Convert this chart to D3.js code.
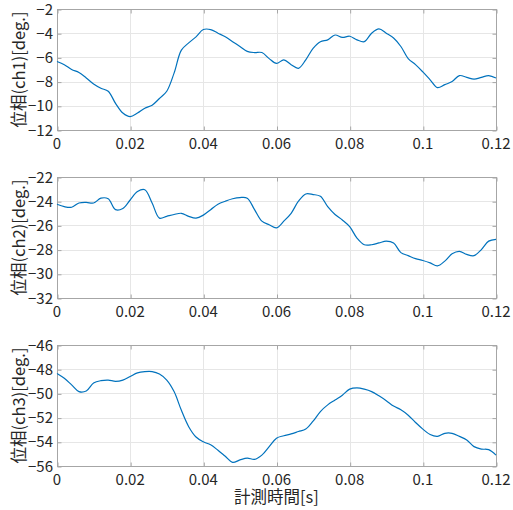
<!DOCTYPE html>
<html>
<head>
<meta charset="utf-8">
<script src="https://cdn.jsdelivr.net/npm/d3@7"></script>
<style>
  html, body { margin: 0; padding: 0; background: #fff; }
  svg { display: block; }
  text { font-family: "Noto Sans CJK JP", "Noto Sans", sans-serif; fill: #262626; }
</style>
</head>
<body>
<script>
const time = [0,0.002,0.004,0.006,0.008,0.010,0.012,0.014,0.016,0.018,0.020,0.022,0.024,0.026,0.028,0.030,0.032,0.034,0.036,0.038,0.040,0.042,0.044,0.046,0.048,0.050,0.052,0.054,0.056,0.058,0.060,0.062,0.064,0.066,0.068,0.070,0.072,0.074,0.076,0.078,0.080,0.082,0.084,0.086,0.088,0.090,0.092,0.094,0.096,0.098,0.100,0.102,0.104,0.106,0.108,0.110,0.112,0.114,0.116,0.118,0.120];

const ch1 = [-6.34,-6.6,-7.0,-7.25,-7.7,-8.2,-8.55,-8.8,-9.8,-10.6,-10.9,-10.6,-10.2,-9.95,-9.4,-8.8,-7.3,-5.4,-4.8,-4.3,-3.7,-3.7,-4.0,-4.3,-4.7,-5.1,-5.5,-5.6,-5.6,-6.1,-6.5,-6.2,-6.6,-6.9,-6.2,-5.25,-4.7,-4.55,-4.15,-4.35,-4.25,-4.55,-4.7,-4.0,-3.65,-4.0,-4.4,-5.1,-6.1,-6.6,-7.2,-7.85,-8.5,-8.25,-8.0,-7.5,-7.65,-7.8,-7.65,-7.5,-7.7];

const ch2 = [-24.25,-24.45,-24.5,-24.15,-24.1,-24.15,-23.75,-23.8,-24.7,-24.6,-23.9,-23.2,-23.05,-24.15,-25.4,-25.25,-25.1,-25.0,-25.25,-25.4,-25.15,-24.7,-24.25,-24.0,-23.8,-23.7,-23.75,-24.7,-25.65,-25.95,-26.2,-25.65,-25.0,-24.0,-23.4,-23.45,-23.6,-24.45,-25.1,-25.55,-26.1,-27.05,-27.6,-27.6,-27.45,-27.3,-27.45,-28.25,-28.5,-28.75,-28.9,-29.1,-29.35,-28.95,-28.35,-28.15,-28.4,-28.5,-28.0,-27.3,-27.15];

const ch3 = [-48.35,-48.75,-49.3,-49.85,-49.8,-49.15,-48.95,-48.9,-49.0,-48.9,-48.6,-48.3,-48.2,-48.2,-48.4,-48.9,-49.85,-51.4,-52.75,-53.6,-54.0,-54.25,-54.7,-55.2,-55.7,-55.5,-55.35,-55.45,-55.1,-54.4,-53.7,-53.5,-53.35,-53.15,-52.95,-52.3,-51.5,-50.95,-50.55,-50.15,-49.65,-49.55,-49.65,-49.85,-50.2,-50.6,-51.05,-51.35,-51.8,-52.4,-52.95,-53.4,-53.55,-53.3,-53.3,-53.55,-53.85,-54.4,-54.6,-54.65,-55.1];

const xTicks = [0, 0.02, 0.04, 0.06, 0.08, 0.1, 0.12];
const xTickLabels = ["0", "0.02", "0.04", "0.06", "0.08", "0.1", "0.12"];
const yTicks1 = [-12, -10, -8, -6, -4, -2];
const yTicks2 = [-32, -30, -28, -26, -24, -22];
const yTicks3 = [-56, -54, -52, -50, -48, -46];
const yLabels = ["位相(ch1)[deg.]", "位相(ch2)[deg.]", "位相(ch3)[deg.]"];
const xLabel = "計測時間[s]";

const W = 513, H = 510;
const left = 57, right = 496;
const tops = [9, 177, 345];
const plotH = 121;

const svg = d3.select("body").append("svg").attr("width", W).attr("height", H);
const x = d3.scaleLinear().domain([0, 0.12]).range([left, right]);

const panels = [
  {data: ch1, ticks: yTicks1, label: yLabels[0]},
  {data: ch2, ticks: yTicks2, label: yLabels[1]},
  {data: ch3, ticks: yTicks3, label: yLabels[2]}
];

const fmt = v => (v < 0 ? "\u2212" + Math.abs(v) : String(v));

panels.forEach((p, i) => {
  const top = tops[i], bottom = top + plotH;
  const y = d3.scaleLinear().domain([p.ticks[0], p.ticks[p.ticks.length - 1]]).range([bottom, top]);
  const g = svg.append("g").attr("transform", "translate(0.5,0.5)");

  // grid
  g.append("g").selectAll("line").data(xTicks).join("line")
    .attr("x1", d => Math.round(x(d))).attr("x2", d => Math.round(x(d)))
    .attr("y1", top).attr("y2", bottom)
    .attr("stroke", "#e6e6e6").attr("stroke-width", 1);
  g.append("g").selectAll("line").data(p.ticks).join("line")
    .attr("y1", d => Math.round(y(d))).attr("y2", d => Math.round(y(d)))
    .attr("x1", left).attr("x2", right)
    .attr("stroke", "#e6e6e6").attr("stroke-width", 1);

  // line
  const line = d3.line().curve(d3.curveCatmullRom.alpha(0.5))
    .x((d, k) => x(time[k])).y(d => y(d));
  svg.append("path").datum(p.data)
    .attr("d", line)
    .attr("fill", "none")
    .attr("stroke", "#0072BD")
    .attr("stroke-width", 1.2)
    .attr("stroke-linejoin", "round");

  // box
  g.append("rect").attr("x", left).attr("y", top).attr("width", right - left).attr("height", plotH)
    .attr("fill", "none").attr("stroke", "#a6a6a6").attr("stroke-width", 1);

  // ticks (inside)
  const axes = [
    [d3.axisBottom(x).tickValues(xTicks), `translate(0,${bottom})`],
    [d3.axisTop(x).tickValues(xTicks), `translate(0,${top})`],
    [d3.axisLeft(y).tickValues(p.ticks), `translate(${left},0)`],
    [d3.axisRight(y).tickValues(p.ticks), `translate(${right},0)`]
  ];
  axes.forEach(([ax, tr]) => {
    const a = g.append("g").attr("transform", tr).call(ax.tickSize(-4).tickFormat(""));
    a.select(".domain").remove();
    a.selectAll("line").attr("stroke", "#a6a6a6");
  });

  // tick labels
  svg.append("g").selectAll("text").data(xTicks).join("text")
    .attr("x", d => x(d)).attr("y", bottom + 19)
    .attr("text-anchor", "middle").attr("font-size", 15)
    .text((d, k) => xTickLabels[k]);
  svg.append("g").selectAll("text").data(p.ticks).join("text")
    .attr("x", left - 4).attr("y", d => y(d) + 5.5)
    .attr("text-anchor", "end").attr("font-size", 15)
    .text(d => fmt(d));

  // y label
  svg.append("text")
    .attr("transform", `translate(25,${top + plotH / 2}) rotate(-90)`)
    .attr("text-anchor", "middle").attr("font-size", 16.5)
    .text(p.label);
});

svg.append("text")
  .attr("x", (left + right) / 2).attr("y", 503)
  .attr("text-anchor", "middle").attr("font-size", 16.5)
  .text(xLabel);
</script>
</body>
</html>
